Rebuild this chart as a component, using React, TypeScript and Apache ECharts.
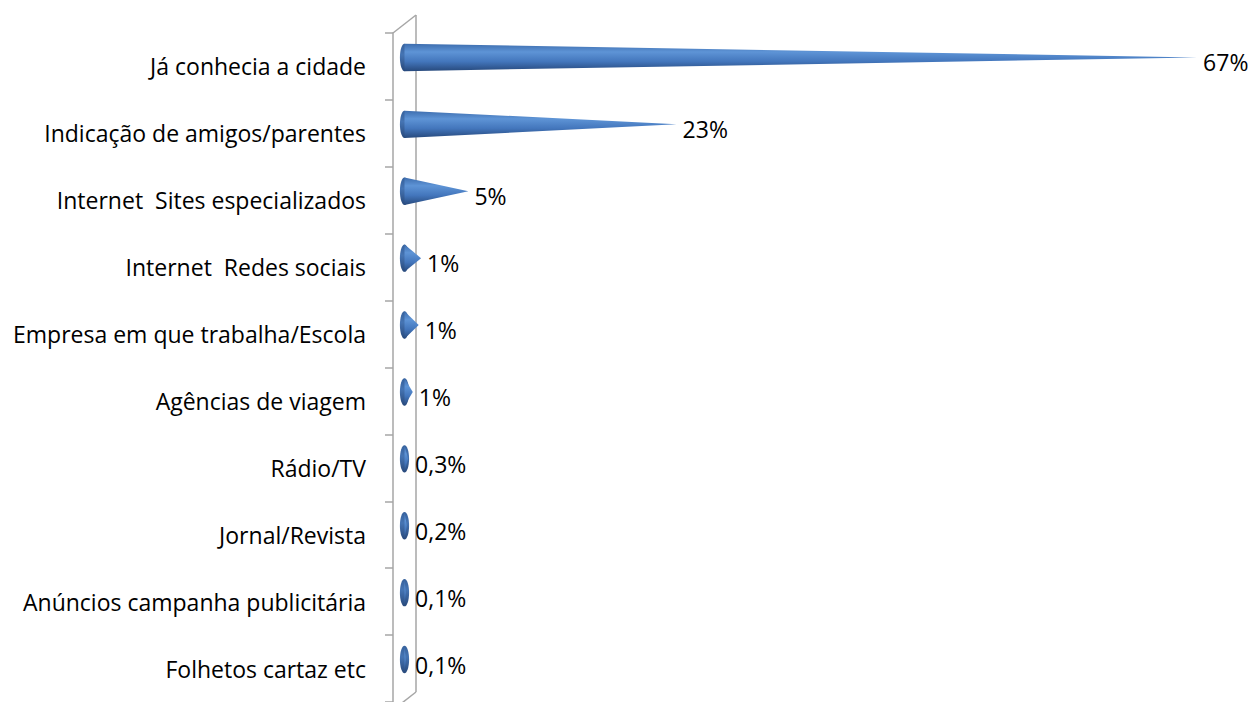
import React, { useEffect, useRef } from "react";
import * as echarts from "echarts";

const categories = [
  "Já conhecia a cidade",
  "Indicação de amigos/parentes",
  "Internet  Sites especializados",
  "Internet  Redes sociais",
  "Empresa em que trabalha/Escola",
  "Agências de viagem",
  "Rádio/TV",
  "Jornal/Revista",
  "Anúncios campanha publicitária",
  "Folhetos cartaz etc",
];
const values = [67, 23, 5.4, 1.4, 1.2, 0.7, 0.3, 0.2, 0.1, 0.1];
const valueLabels = ["67%", "23%", "5%", "1%", "1%", "1%", "0,3%", "0,2%", "0,1%", "0,1%"];

const W = 1254;
const H = 702;
const GRID_LEFT = 393;
const GRID_TOP = 33;
const GRID_HEIGHT = 677;
const X_MAX = 72;
const PX_PER_UNIT = 11.83;
const DEPTH_X = 23;
const DEPTH_Y = 18;
const FONT = "'Open Sans', 'Noto Sans', sans-serif";
const FONT_SIZE = 23;

export default function App() {
  const ref = useRef<HTMLDivElement>(null);
  useEffect(() => {
    document.body.style.margin = "0";
    if (!ref.current) return;
    const chart = echarts.init(ref.current, null, { renderer: "svg" });
    const gridWidth = X_MAX * PX_PER_UNIT;
    const wallColor = "#A6A6A6";
    const bodyGrad = (y0: number, y1: number) =>
      new echarts.graphic.LinearGradient(0, y0, 0, y1, [
        { offset: 0, color: "#3D6DAE" },
        { offset: 0.3, color: "#5E94D6" },
        { offset: 0.65, color: "#4376BC" },
        { offset: 1, color: "#27497C" },
      ], true);
    const capGrad = (y0: number, y1: number) =>
      new echarts.graphic.LinearGradient(0, y0, 0, y1, [
        { offset: 0, color: "#36619C" },
        { offset: 0.4, color: "#4574B3" },
        { offset: 1, color: "#27487A" },
      ], true);
    const option: any = {
      animation: false,
      backgroundColor: "#ffffff",
      grid: {
        left: GRID_LEFT,
        top: GRID_TOP,
        width: gridWidth,
        height: GRID_HEIGHT,
        containLabel: false,
      },
      xAxis: {
        type: "value",
        min: 0,
        max: X_MAX,
        show: false,
      },
      yAxis: {
        type: "category",
        data: categories,
        inverse: true,
        axisLine: { show: true, lineStyle: { color: wallColor, width: 1.5 } },
        axisTick: { show: true, length: 8, lineStyle: { color: wallColor, width: 1.5 } },
        splitLine: { show: false },
        axisLabel: {
          margin: 27,
          color: "#000000",
          fontFamily: FONT,
          fontSize: FONT_SIZE,
          padding: [8, 0, 0, 0],
        },
      },
      graphic: [
        {
          type: "line",
          z: 0,
          shape: { x1: GRID_LEFT + DEPTH_X, y1: GRID_TOP - DEPTH_Y, x2: GRID_LEFT + DEPTH_X, y2: GRID_TOP + GRID_HEIGHT - DEPTH_Y },
          style: { stroke: wallColor, lineWidth: 1.5 },
        },
        {
          type: "line",
          z: 0,
          shape: { x1: GRID_LEFT, y1: GRID_TOP, x2: GRID_LEFT + DEPTH_X, y2: GRID_TOP - DEPTH_Y },
          style: { stroke: wallColor, lineWidth: 1.5 },
        },
        {
          type: "line",
          z: 0,
          shape: { x1: GRID_LEFT, y1: GRID_TOP + GRID_HEIGHT, x2: GRID_LEFT + DEPTH_X, y2: GRID_TOP + GRID_HEIGHT - DEPTH_Y },
          style: { stroke: wallColor, lineWidth: 1.5 },
        },
      ],
      series: [
        {
          type: "custom",
          z: 5,
          encode: { x: 1, y: 0 },
          data: values.map((v, i) => [i, v]),
          renderItem: (params: any, api: any) => {
            const idx = api.value(0);
            const val = api.value(1);
            const base = api.coord([0, idx]);
            const tip = api.coord([val, idx]);
            const band = api.size([0, 1])[1];
            const dx = DEPTH_X / 2;
            const dy = -DEPTH_Y / 2;
            const bx = base[0] + dx;
            const tx = tip[0] + dx;
            const cy = base[1] + dy;
            const h = band * 0.205;
            const rx = 4.6;
            const labelX = Math.max(tx, bx + rx) + 6;
            return {
              type: "group",
              children: [
                {
                  type: "ellipse",
                  shape: { cx: bx, cy, rx, ry: h },
                  style: { fill: capGrad(cy - h, cy + h) },
                },
                {
                  type: "polygon",
                  shape: { points: [[bx, cy - h], [tx, cy], [bx, cy + h]] },
                  style: { fill: bodyGrad(cy - h, cy + h) },
                },
                {
                  type: "text",
                  x: labelX,
                  y: cy + 5,
                  style: {
                    text: valueLabels[idx],
                    fontFamily: FONT,
                    fontSize: FONT_SIZE,
                    fill: "#000000",
                    verticalAlign: "middle",
                    align: "left",
                  },
                },
              ],
            };
          },
        },
      ],
    };
    chart.setOption(option);
    return () => chart.dispose();
  }, []);
  return <div ref={ref} style={{ width: W, height: H }} />;
}
